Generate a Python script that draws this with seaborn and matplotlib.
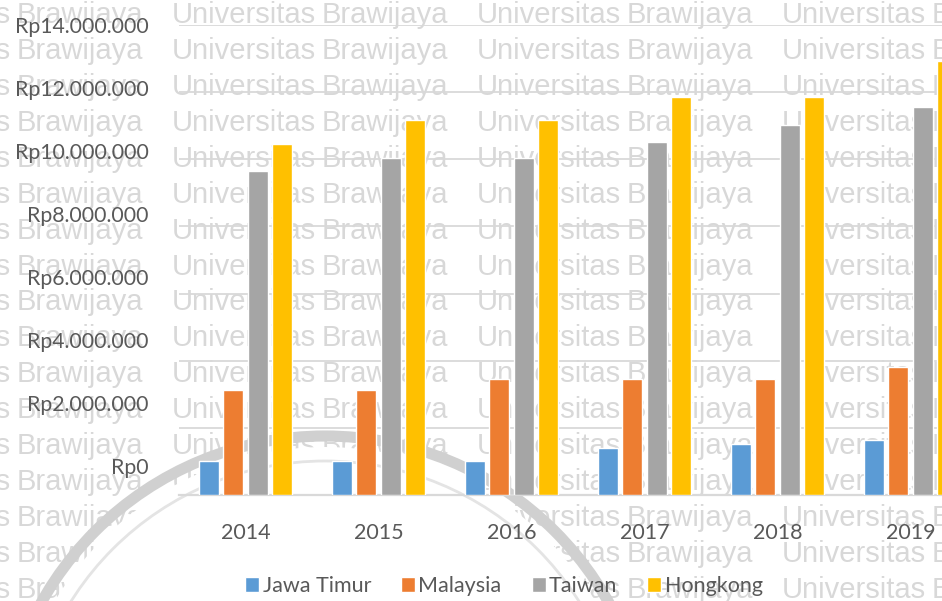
import matplotlib
matplotlib.use("Agg")
import numpy as np
import pandas as pd
import matplotlib.pyplot as plt
import seaborn as sns
from matplotlib.patches import Circle
from matplotlib.ticker import FuncFormatter

# data (Rupiah)
years = ["2014", "2015", "2016", "2017", "2018", "2019"]
regions = ["Jawa Timur", "Malaysia", "Taiwan", "Hongkong"]
jawa_timur = [1000000, 1000000, 1000000, 1390000, 1510000, 1630000]
malaysia = [3120000, 3120000, 3450000, 3450000, 3450000, 3800000]
taiwan = [9660000, 10040000, 10040000, 10520000, 11030000, 11560000]
hongkong = [10460000, 11180000, 11180000, 11860000, 11860000, 12930000]
y_ticks = [0, 2000000, 4000000, 6000000, 8000000, 10000000, 12000000, 14000000]
colors = ["#5B9BD5", "#ED7D31", "#A5A5A5", "#FFC000"]
watermark_words = ["Universitas", "Brawijaya"]

W, H = 942, 601
TEXT = "#595959"
GRID = "#D9D9D9"

df = pd.DataFrame({
    "Tahun": np.repeat(years, len(regions)),
    "Wilayah": regions * len(years),
    "Upah": [v for row in zip(jawa_timur, malaysia, taiwan, hongkong) for v in row],
})

sns.set_theme(style="white")
plt.rcParams["font.family"] = ["Lato", "DejaVu Sans"]

fig = plt.figure(figsize=(W / 100, H / 100), dpi=100)
fig.patch.set_facecolor("white")

# background layer in pixel coordinates: repeated watermark + logo ring
bg = fig.add_axes([0, 0, 1, 1], zorder=0)
bg.set_xlim(0, W)
bg.set_ylim(H, 0)
bg.axis("off")
for yy in np.linspace(15, 590, 17):
    for k in range(-1, 4):
        bg.text(172 + 305 * k, yy, watermark_words[0], fontsize=21, color="#D8D8D8",
                family="Liberation Sans", va="center", ha="left", zorder=1)
        bg.text(17 + 305 * k, yy, watermark_words[1], fontsize=21, color="#D8D8D8",
                family="Liberation Sans", va="center", ha="left", zorder=1)
bg.add_patch(Circle((325, 761), 314, facecolor="white", edgecolor="none", zorder=2))
bg.add_patch(Circle((325, 761), 325, facecolor="none", edgecolor="#D0D0D0", lw=8, zorder=3))
bg.add_patch(Circle((325, 761), 300, facecolor="none", edgecolor="#E4E4E4", lw=2, zorder=3))

# main chart
left, bottom = 179 / W, (H - 495) / H
ax = fig.add_axes([left, bottom, 798 / W, (495 - 25) / H], zorder=2)
ax.set_facecolor("none")
sns.barplot(data=df, x="Tahun", y="Upah", hue="Wilayah", palette=colors,
            width=0.73, gap=0.18, saturation=1, ax=ax, zorder=3)
ax.set_ylim(0, 14000000)
ax.set_yticks(y_ticks)
ax.yaxis.grid(True, color=GRID, lw=1.3, zorder=0)
ax.set_axisbelow(True)
for s in ["top", "right", "left"]:
    ax.spines[s].set_visible(False)
ax.spines["bottom"].set_color(GRID)
ax.spines["bottom"].set_linewidth(1.6)
ax.tick_params(axis="y", left=False, labelleft=False)
ax.tick_params(axis="x", length=0, pad=20, labelsize=15.5, labelcolor=TEXT)
ax.set_xlabel("")
ax.set_ylabel("")

# y labels sit a bit off the gridlines in the source image
lab = fig.add_axes([left, (H - 466) / H, 0.01, (466 - 25) / H], zorder=2)
lab.set_facecolor("none")
lab.set_ylim(0, 14000000)
lab.set_yticks(y_ticks)
lab.yaxis.set_major_formatter(FuncFormatter(lambda v, p: "Rp" + f"{int(v):,}".replace(",", ".")))
lab.tick_params(axis="y", length=0, pad=22, labelsize=15.3, labelcolor=TEXT)
lab.set_xticks([])
for s in lab.spines.values():
    s.set_visible(False)

handles = ax.get_legend().legend_handles
ax.get_legend().remove()
fig.legend(handles, regions, loc="center", bbox_to_anchor=(504 / W, (H - 586) / H),
           ncol=4, frameon=False, fontsize=15.5, labelcolor=TEXT,
           handlelength=0.65, handleheight=0.65, handletextpad=0.15,
           columnspacing=1.4, borderaxespad=0)

fig.savefig("out.png", dpi=100, facecolor="white")
